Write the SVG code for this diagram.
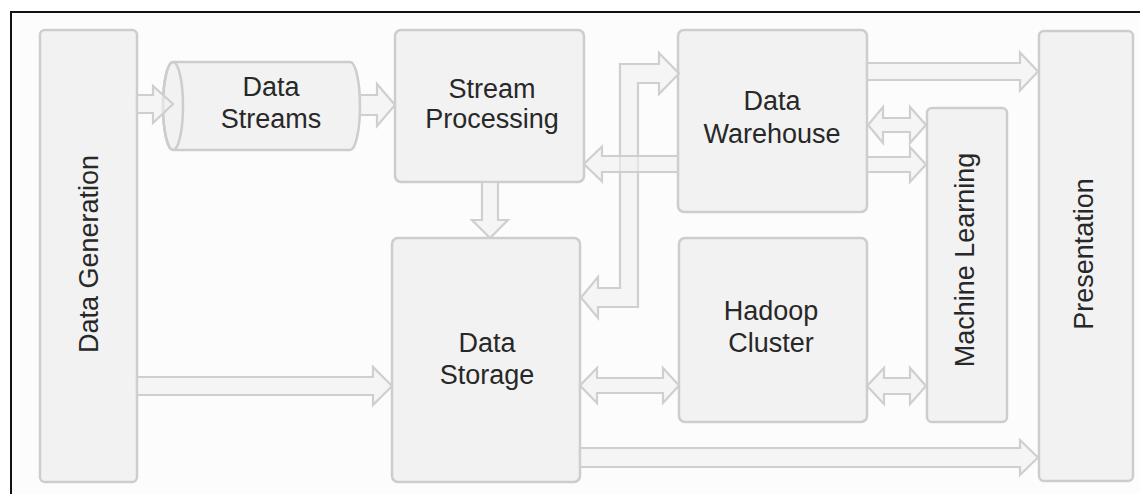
<svg xmlns="http://www.w3.org/2000/svg" width="1140" height="494" viewBox="0 0 1140 494">
  <style>
    .box { fill: #f2f2f2; stroke: #cdcdcd; stroke-width: 2.5; }
    .arrow { fill: #f0f0f0; fill-opacity: 0.6; stroke: #cfcfcf; stroke-width: 2.2; stroke-linejoin: miter; }
    .label { font-family: "Liberation Sans", Arial, sans-serif; font-size: 27px; fill: #282828; text-anchor: middle; }
    .frame { stroke: #111; stroke-width: 2; fill: none; }
  </style>

  <rect x="0" y="0" width="1140" height="494" fill="#ffffff"/>
  <rect x="12" y="13" width="1128" height="481" fill="#fcfcfc"/>
  <path class="frame" d="M10,12 H1140 M11,12 V494"/>

  <g id="nodes">
    <g id="data-generation">
      <rect class="box" x="40" y="30" width="97" height="452" rx="5"/>
      <text class="label" transform="translate(98,254) rotate(-90)">Data Generation</text>
    </g>

    <g id="data-streams">
      <path class="box" d="M173,62 H350 A10,44 0 0 1 350,150 H173 A10,44 0 0 1 173,62 Z"/>
      <ellipse cx="173" cy="106" rx="10" ry="44" fill="none" stroke="#cdcdcd" stroke-width="2.5"/>
      <text class="label" x="271" y="96">Data</text>
      <text class="label" x="271" y="128">Streams</text>
    </g>

    <g id="stream-processing">
      <rect class="box" x="395" y="30" width="189" height="152" rx="6"/>
      <text class="label" x="492" y="98">Stream</text>
      <text class="label" x="492" y="128">Processing</text>
    </g>

    <g id="data-warehouse">
      <rect class="box" x="678" y="30" width="189" height="182" rx="6"/>
      <text class="label" x="772" y="110">Data</text>
      <text class="label" x="772" y="143">Warehouse</text>
    </g>

    <g id="machine-learning">
      <rect class="box" x="927" y="108" width="80" height="314" rx="5"/>
      <text class="label" transform="translate(974,260) rotate(-90)">Machine Learning</text>
    </g>

    <g id="presentation">
      <rect class="box" x="1039" y="31" width="94" height="450" rx="5"/>
      <text class="label" transform="translate(1093,254) rotate(-90)">Presentation</text>
    </g>

    <g id="data-storage">
      <rect class="box" x="392" y="238" width="188" height="244" rx="6"/>
      <text class="label" x="487" y="352">Data</text>
      <text class="label" x="487" y="384">Storage</text>
    </g>

    <g id="hadoop-cluster">
      <rect class="box" x="679" y="238" width="188" height="184" rx="6"/>
      <text class="label" x="771" y="320">Hadoop</text>
      <text class="label" x="771" y="352">Cluster</text>
    </g>
  </g>

  <g id="connectors">
    <!-- generation -> streams -->
    <path class="arrow" d="M137,95 H153 V86 L173,104 L153,123 V113 H137 Z"/>
    <!-- streams -> stream processing -->
    <path class="arrow" d="M360,95 H377 V84 L395,105 L377,126 V115 H360 Z"/>
    <!-- stream processing -> storage -->
    <path class="arrow" d="M482,182 V220 H472 L490,238 L508,220 H498 V182 Z"/>
    <!-- storage <-> warehouse (elbow) -->
    <path class="arrow" d="M679,73.5 L659,53 V64 H620 V288 H598 V277 L581,297.5 L598,318 V307 H638 V83 H659 V94 Z"/>
    <!-- warehouse -> stream processing -->
    <path class="arrow" d="M678,156 H602 V146.5 L584,164 L602,181.5 V172 H678 Z"/>
    <!-- warehouse -> presentation -->
    <path class="arrow" d="M867,63 H1020 V52.5 L1038,71.5 L1020,90.5 V80 H867 Z"/>
    <!-- warehouse <-> machine learning -->
    <path class="arrow" d="M868,125 L883,107 V118 H910 V107 L926,125 L910,143 V132 H883 V143 Z"/>
    <!-- warehouse -> machine learning -->
    <path class="arrow" d="M867,157 H910 V147 L926,164.5 L910,182 V172 H867 Z"/>
    <!-- generation -> storage -->
    <path class="arrow" d="M137,377 H373 V367 L392,386 L373,405 V395 H137 Z"/>
    <!-- storage <-> hadoop -->
    <path class="arrow" d="M580,385.5 L597,368 V378 H663 V368 L679,385.5 L663,403 V393 H597 V403 Z"/>
    <!-- hadoop <-> machine learning -->
    <path class="arrow" d="M867,386 L884,368 V378 H910 V368 L926,386 L910,404 V394 H884 V404 Z"/>
    <!-- storage -> presentation -->
    <path class="arrow" d="M580,448 H1020 V440 L1038,457.5 L1020,475 V467 H580 Z"/>
  </g>
</svg>
